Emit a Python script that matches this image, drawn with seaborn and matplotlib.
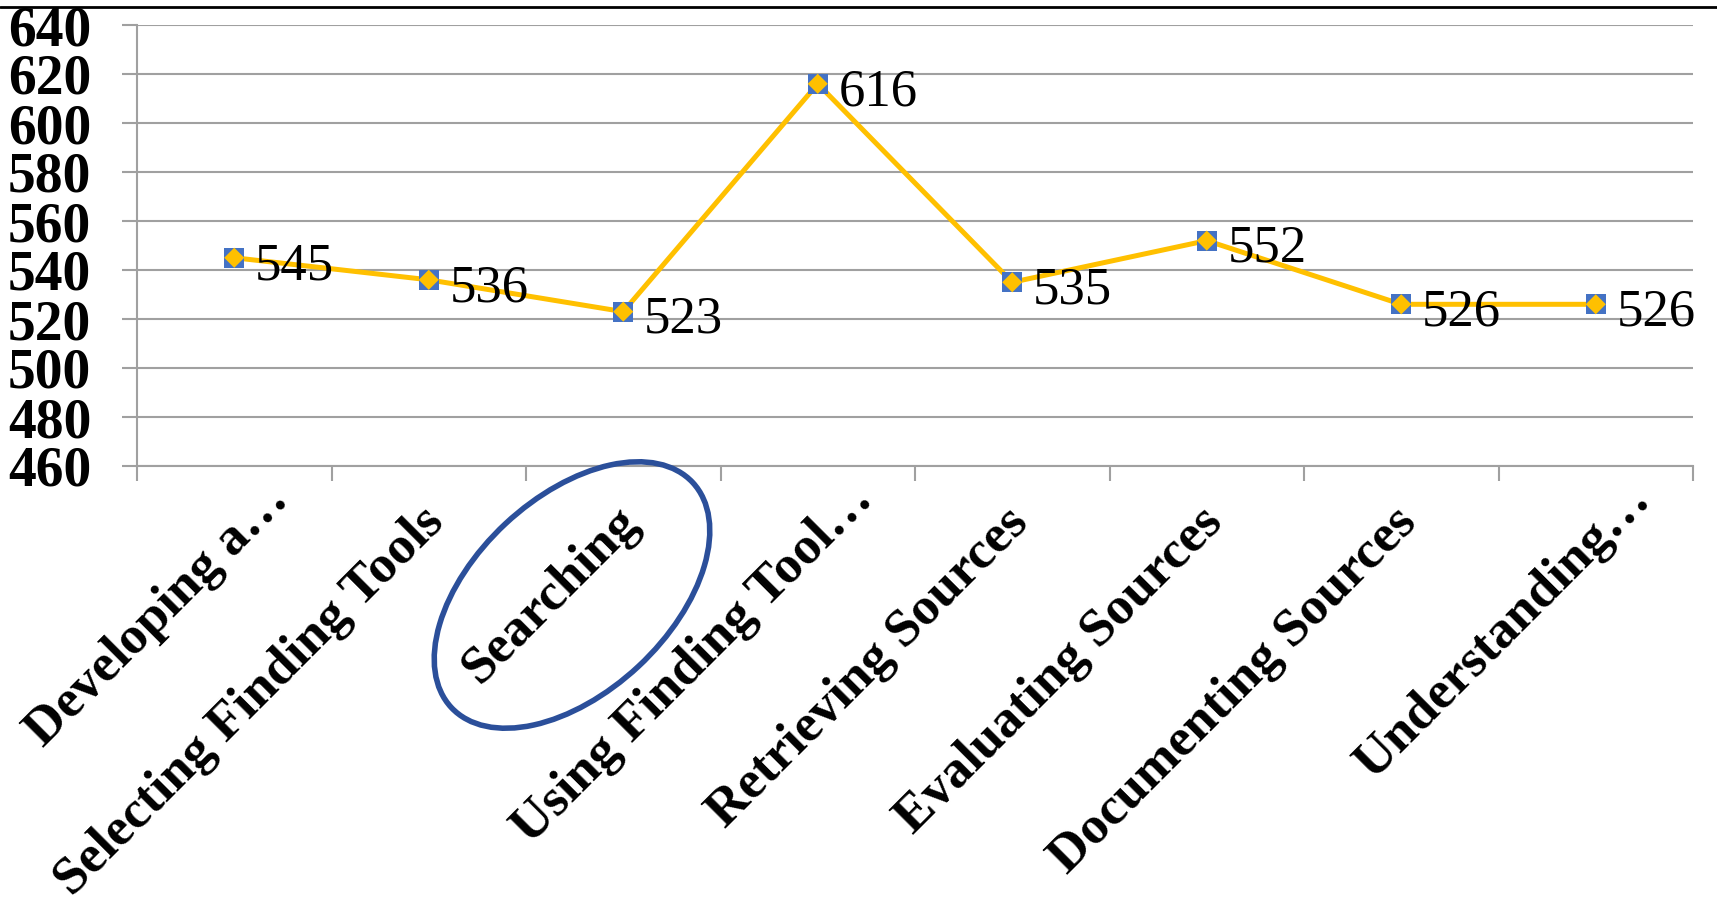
import matplotlib
matplotlib.use('Agg')
import matplotlib.pyplot as plt
import matplotlib.transforms as mtransforms
from matplotlib.patches import Ellipse
from matplotlib.lines import Line2D
import seaborn as sns
import pandas as pd

# Data
categories = ['Developing a\u2026', 'Selecting Finding Tools', 'Searching', 'Using Finding Tool\u2026',
              'Retrieving Sources', 'Evaluating Sources', 'Documenting Sources', 'Understanding\u2026']
scores = [545, 536, 523, 616, 535, 552, 526, 526]
y_ticks = list(range(460, 641, 20))

df = pd.DataFrame({'Category': categories, 'Score': scores, 'pos': range(len(categories))})

sns.set_style('white')
plt.rcParams['font.family'] = ['Liberation Serif', 'DejaVu Serif']
plt.rcParams['text.color'] = 'black'
plt.rcParams['xtick.color'] = 'black'
plt.rcParams['ytick.color'] = 'black'

fig = plt.figure(figsize=(17.17, 9.07), dpi=100)
ax = fig.add_axes([137 / 1717, 1 - 466 / 907, (1693 - 137) / 1717, (466 - 25) / 907])

gold = '#FFC000'
blue = '#4472C4'
grid_gray = '#A0A0A0'

sns.lineplot(data=df, x='pos', y='Score', ax=ax, color=gold, linewidth=3.6, zorder=3)
sns.scatterplot(data=df, x='pos', y='Score', ax=ax, marker='s', s=210, color=blue,
                edgecolor='none', zorder=4)
sns.scatterplot(data=df, x='pos', y='Score', ax=ax, marker='D', s=105, color=gold,
                edgecolor='none', zorder=5)

for p, v in zip(df['pos'], df['Score']):
    ax.annotate(str(v), (p, v), xytext=(15, -6), textcoords='offset points',
                ha='left', va='center', fontsize=38, color='black', zorder=6)

ax.set_xlim(-0.5, len(categories) - 0.5)
ax.set_ylim(460, 640)
ax.set_yticks(y_ticks)
ax.set_yticklabels([str(t) for t in y_ticks], fontsize=40, fontweight='bold')
ax.grid(axis='y', color=grid_gray, linewidth=1.5)
ax.set_axisbelow(True)

ax.set_xticks(range(len(categories)))
ax.set_xticklabels(categories, rotation=45, ha='right', va='center',
                   rotation_mode='anchor', fontsize=38.5, fontweight='bold')
ax.set_xticks([i - 0.5 for i in range(len(categories) + 1)], minor=True)
ax.tick_params(axis='x', which='major', bottom=True, length=0, pad=0)
ax.tick_params(axis='x', which='minor', bottom=True, length=11, width=1.5,
               color=grid_gray, direction='out')
ax.tick_params(axis='y', left=True, length=11, width=1.5, color=grid_gray,
               labelcolor='black', direction='out', pad=22)

# Excel puts the truncated labels a bit further along their own direction
for lbl in ax.get_xticklabels():
    if lbl.get_text().endswith('\u2026'):
        dx, dy = 0.47, -0.26
    else:
        dx, dy = 0.08, -0.49
    lbl.set_transform(lbl.get_transform() + mtransforms.ScaledTranslation(dx, dy, fig.dpi_scale_trans))

ax.set_xlabel('')
ax.set_ylabel('')
for side in ['top', 'right']:
    ax.spines[side].set_visible(False)
for side in ['left', 'bottom']:
    ax.spines[side].set_color(grid_gray)
    ax.spines[side].set_linewidth(1.5)

# Highlight ellipse around "Searching"
ell = Ellipse((5.72, 9.07 - 5.95), width=3.3, height=1.95, angle=43, fill=False,
              edgecolor='#2B4F9A', linewidth=4, transform=fig.dpi_scale_trans)
fig.add_artist(ell)

# Black rule across the top
fig.add_artist(Line2D([0, 1], [1 - 7 / 907, 1 - 7 / 907], color='black', linewidth=2,
                      transform=fig.transFigure))

fig.savefig('out.png', dpi=100)
